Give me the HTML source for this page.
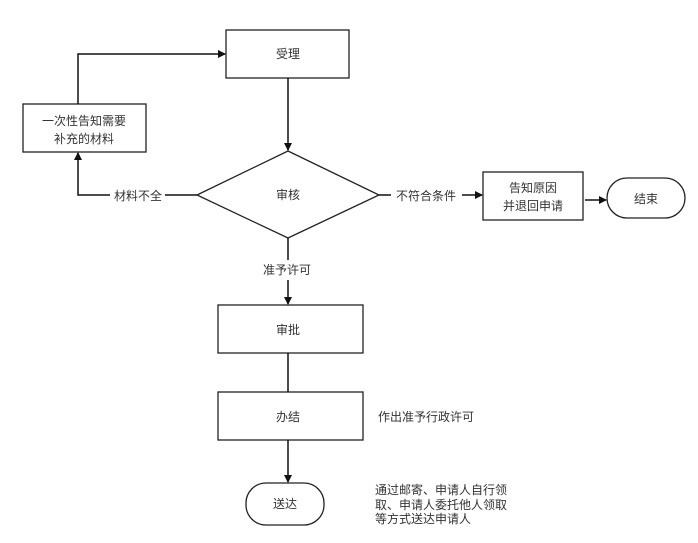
<!DOCTYPE html>
<html><head><meta charset="utf-8"><style>
body{margin:0;background:#fff;}
svg text{font-family:"Liberation Sans","Noto Sans CJK SC",sans-serif;fill:#333;}
</style></head><body>
<svg width="698" height="538" xmlns="http://www.w3.org/2000/svg">
<defs><marker id="a" markerWidth="8" markerHeight="8" refX="7" refY="4" orient="auto" markerUnits="userSpaceOnUse"><path d="M0,0 L8,4 L0,8 z" fill="#111"/></marker></defs>
<g stroke="#222" stroke-width="1.3" fill="#fff">
<rect x="226" y="30" width="123" height="48"/>
<rect x="23" y="104" width="123" height="48"/>
<polygon points="197,195 288,151 379,195 288,238"/>
<rect x="483" y="172" width="100" height="48"/>
<rect x="607" y="178" width="78" height="40" rx="20"/>
<rect x="218" y="305" width="145" height="48"/>
<rect x="218" y="392" width="145" height="48"/>
<rect x="246" y="483" width="78" height="42" rx="20"/>
</g>
<g stroke="#111" stroke-width="1.5" fill="none">
<line x1="288" y1="78" x2="288" y2="150" marker-end="url(#a)"/>
<polyline points="197,195 165,195"/>
<polyline points="110,195 78,195 78,153" marker-end="url(#a)"/>
<polyline points="78,104 78,54 225,54" marker-end="url(#a)"/>
<line x1="379" y1="195" x2="391" y2="195"/>
<line x1="462" y1="195" x2="482" y2="195" marker-end="url(#a)"/>
<line x1="585" y1="200" x2="606" y2="200" marker-end="url(#a)"/>
<line x1="288" y1="238" x2="288" y2="260"/>
<line x1="288" y1="280" x2="288" y2="304" marker-end="url(#a)"/>
<line x1="288" y1="353" x2="288" y2="392"/>
<line x1="288" y1="440" x2="288" y2="482" marker-end="url(#a)"/>
</g>
<g font-size="12">
<text x="288" y="58" text-anchor="middle">受理</text>
<text x="84" y="125" text-anchor="middle">一次性告知需要</text>
<text x="84" y="143" text-anchor="middle">补充的材料</text>
<text x="288" y="199" text-anchor="middle">审核</text>
<text x="138" y="200" text-anchor="middle">材料不全</text>
<text x="426" y="200" text-anchor="middle">不符合条件</text>
<text x="533" y="192" text-anchor="middle">告知原因</text>
<text x="533" y="210" text-anchor="middle">并退回申请</text>
<text x="646" y="203" text-anchor="middle">结束</text>
<text x="287" y="274" text-anchor="middle">准予许可</text>
<text x="288" y="334" text-anchor="middle">审批</text>
<text x="288" y="421" text-anchor="middle">办结</text>
<text x="378" y="421">作出准予行政许可</text>
<text x="285" y="508" text-anchor="middle">送达</text>
<text x="375" y="494">通过邮寄、申请人自行领</text>
<text x="375" y="509">取、申请人委托他人领取</text>
<text x="375" y="523">等方式送达申请人</text>
</g>
</svg>
</body></html>
